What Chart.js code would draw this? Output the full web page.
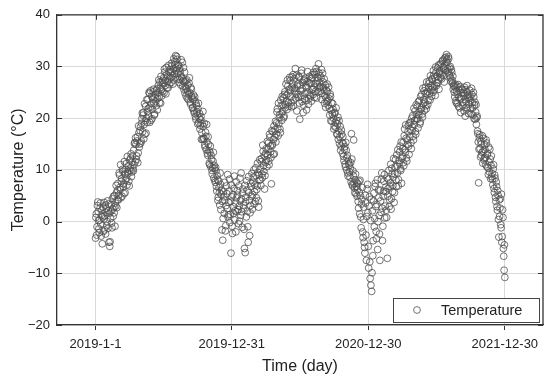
<!DOCTYPE html>
<html><head><meta charset="utf-8">
<script src="https://cdn.jsdelivr.net/npm/chart.js@4"></script>
<style>html,body{margin:0;padding:0;background:#fff}canvas{display:block}</style>
</head><body>
<canvas id="c" width="550" height="380"></canvas>
<script>
// ---- data ----
const seriesLabel = 'Temperature';
// readings on even day indexes (day 0 = 2019-1-1): days 0, 2, 4, ...
const tempEvenDays = [
  -3.2, 1.5, -1.0, 3.8, 0.2, -2.1, 2.6, -0.5, 1.2, -4.3,
  2.8, 0.5, -1.6, 3.2, 1.8, -0.8, 4.0, 2.1, -4.0, -4.8,
  0.6, 3.3, -1.2, 2.4, 4.9, 1.7, -0.9, 3.0, 5.6, 4.2,
  7.4, 5.1, 9.0, 6.2, 4.6, 8.3, 10.1, 6.8, 5.4, 9.2,
  8.0, 11.2, 7.1, 9.6, 10.8, 6.9, 9.9, 12.3, 8.7, 11.5,
  10.2, 13.8, 15.1, 11.6, 14.9, 12.7, 16.4, 13.3, 17.2, 15.0,
  18.3, 15.6, 19.9, 17.4, 21.1, 18.8, 16.9, 22.3, 20.0, 19.2,
  23.6, 20.4, 24.8, 22.1, 19.6, 24.2, 21.7, 25.1, 22.9, 20.8,
  24.6, 22.4, 25.7, 23.8, 26.4, 24.1, 27.0, 22.9, 25.5, 26.9,
  25.2, 27.8, 29.5, 26.3, 24.7, 28.4, 27.1, 25.9, 29.0, 27.6,
  28.8, 26.9, 30.1, 28.2, 29.6, 27.4, 31.0, 32.1, 29.3, 31.4,
  28.7, 30.3, 27.5, 29.1, 26.4, 28.0, 30.8, 27.2, 25.6, 28.9,
  26.1, 24.3, 27.4, 25.2, 23.6, 26.8, 24.9, 22.7, 25.6, 23.9,
  22.1, 24.5, 21.0, 23.3, 19.8, 22.4, 20.6, 21.8, 19.1, 20.9,
  18.6, 20.3, 17.2, 15.9, 18.4, 16.1, 14.8, 17.3, 13.9, 15.4,
  12.8, 14.9, 11.3, 13.4, 10.6, 12.0, 9.2, 11.7, 8.4, 10.3,
  7.6, 9.8, 5.9, 8.1, 4.7, 6.6, 3.2, 7.2, 5.3, -1.6,
  -3.6, 5.8, 1.6, 4.1, -0.8, 6.9, 2.5, 0.9, 3.7, 8.2,
  1.4, -6.1, 4.8, -2.3, 2.9, 6.4, 0.3, 3.6, 7.7, 1.9,
  5.1, -0.4, 3.0, 8.4, 1.2, 4.4, -1.1, 6.3, 2.6, -5.2,
  -6.0, 4.7, 7.9, 2.0, -4.0, 5.6, -2.7, 3.1, 6.8, 9.3,
  5.2, 8.6, 3.4, 7.1, 10.4, 4.6, 6.9, 9.5, 2.8, 8.0,
  10.1, 7.0, 12.2, 8.5, 13.6, 9.7, 6.3, 11.4, 14.1, 10.6,
  12.9, 15.2, 11.0, 16.3, 13.5, 7.3, 14.7, 17.4, 15.9, 13.1,
  17.8, 15.4, 19.1, 21.8, 16.6, 18.9, 20.7, 17.2, 22.4, 19.6,
  21.3, 23.9, 20.4, 25.1, 22.6, 24.4, 21.7, 26.2, 23.0, 25.6,
  27.3, 24.1, 22.2, 26.0, 28.4, 23.5, 25.8, 29.6, 24.7, 21.4,
  26.6, 24.0, 27.9, 19.8, 25.3, 28.7, 23.2, 26.9, 22.5, 27.4,
  24.8, 26.3, 21.6, 27.1, 25.0, 23.7, 28.1, 24.2, 26.7, 25.5,
  27.8, 24.6, 26.0, 28.5, 25.2, 29.0, 26.6, 27.3, 30.5, 25.9,
  28.2, 26.1, 29.4, 24.8, 27.0, 25.5, 22.9, 26.4, 24.0, 23.2,
  25.1, 22.5, 23.8, 20.6, 24.2, 21.5, 19.4, 22.8, 20.0, 18.5,
  21.1, 18.2, 19.6, 16.8, 20.2, 17.5, 15.1, 18.4, 14.6, 16.9,
  13.2, 15.1, 11.8, 14.5, 10.6, 13.8, 12.3, 9.4, 11.7, 10.9,
  8.6, 11.4, 17.0, 7.2, 9.8, 15.8, 6.5, 8.1, 5.4, 7.6,
  6.2, 3.9, 7.8, 1.5, 5.0, -1.2, 4.3, -2.0, 0.4, -4.0,
  -6.1, 3.6, -7.5, 6.3, 1.7, -9.0, 4.8, -11.0, -12.3, -13.5,
  2.1, -3.7, 5.5, 0.6, 7.4, -1.9, 3.3, -5.4, 6.1, 1.2,
  -7.5, 4.0, 8.2, 2.6, -0.9, 5.9, 9.1, 3.0, 6.7, 0.8,
  -7.1, 6.4, 9.9, 4.2, 7.5, 2.4, 10.3, 5.8, 8.6, 3.7,
  9.2, 12.0, 6.8, 10.7, 13.9, 8.1, 11.3, 14.6, 9.9, 7.4,
  12.6, 15.3, 10.8, 17.9, 13.4, 16.1, 11.7, 14.9, 18.6, 13.0,
  16.4, 19.2, 14.1, 17.6, 20.5, 15.8, 18.8, 21.4, 16.9, 19.9,
  22.3, 18.1, 20.6, 23.4, 19.3, 21.7, 24.6, 20.2, 22.8, 25.3,
  23.1, 26.0, 21.8, 24.7, 22.6, 25.9, 27.2, 23.5, 26.3, 24.2,
  27.5, 25.0, 28.3, 26.1, 24.4, 28.9, 26.8, 29.7, 27.4, 25.6,
  29.1, 27.8, 30.6, 28.4, 31.2, 29.5, 27.0, 30.1, 31.8, 32.3,
  30.8, 29.0, 31.5, 28.2, 30.0, 27.1, 28.9, 26.8, 25.6, 26.4,
  24.1, 25.9, 23.0, 26.2, 24.6, 22.3, 25.4, 23.7, 21.1, 24.9,
  25.6, 22.4, 24.3, 26.0, 20.4, 23.2, 25.1, 21.8, 24.0, 22.7,
  25.4, 23.5, 20.8, 24.6, 22.0, 25.0, 19.9, 23.1, 21.2, 18.8,
  20.4, 17.0, 7.5, 16.2, 14.1, 15.5, 12.8, 16.6, 13.6, 11.9,
  14.9, 12.4, 15.8, 10.6, 13.2, 9.1, 11.5, 14.0, 8.3, 12.7,
  9.3, 7.1, 11.0, 5.6, 8.4, 3.9, 6.8, 2.2, 5.1, -3.0,
  1.0, 4.4, -1.2, -4.0, 2.3, -5.2, -9.4, -10.8
];
// readings on odd day indexes: days 1, 3, 5, ...
const tempOddDays = [
  0.8, -2.6, 3.1, 1.9, -1.4, 0.3, 3.6, -2.8, 2.2, 0.9,
  -1.9, 3.7, 1.1, -2.4, 2.5, 0.0, -1.3, 3.4, 1.6, -3.9,
  2.0, -0.3, 4.4, 1.0, 2.8, 5.0, 3.6, 7.0, 2.7, 6.1,
  4.2, 9.4, 6.6, 11.0, 7.8, 4.9, 9.7, 7.3, 11.6, 5.6,
  10.1, 8.4, 12.6, 9.3, 7.8, 11.9, 10.4, 13.1, 9.6, 12.7,
  9.8, 11.0, 15.3, 16.2, 12.0, 15.6, 11.4, 18.5, 14.4, 17.6,
  15.2, 19.0, 21.0, 20.6, 16.0, 22.8, 19.5, 17.1, 23.6, 21.3,
  21.9, 25.0, 19.2, 25.3, 22.8, 19.9, 23.7, 25.6, 20.6, 24.0,
  23.2, 25.4, 21.6, 24.9, 27.4, 23.0, 25.8, 28.1, 24.3, 27.3,
  26.7, 24.9, 28.9, 27.3, 29.8, 25.8, 28.1, 30.2, 26.5, 29.4,
  27.9, 30.6, 29.0, 26.6, 31.5, 28.6, 30.4, 29.7, 31.9, 27.8,
  30.1, 26.9, 29.6, 28.4, 31.3, 27.7, 26.2, 29.8, 27.0, 24.9,
  27.2, 25.7, 23.9, 26.4, 24.6, 27.8, 23.1, 25.9, 24.2, 21.9,
  23.6, 21.4, 24.1, 20.3, 22.8, 21.2, 18.9, 22.9, 20.0, 17.9,
  19.7, 15.9, 18.9, 21.3, 16.0, 19.0, 14.4, 16.5, 18.8, 13.2,
  16.4, 13.7, 11.0, 14.6, 12.8, 9.9, 10.4, 13.4, 10.9, 8.0,
  10.5, 6.8, 8.9, 4.1, 7.9, 5.6, 9.4, 2.3, 6.1, 3.9,
  0.6, 4.8, 7.6, -1.8, 3.1, 5.4, 9.1, 1.3, 5.9, -0.2,
  3.9, 7.1, -0.9, 5.2, 1.6, 8.8, 2.1, -2.0, 4.6, 6.0,
  2.3, 6.9, 0.1, 4.0, 9.4, 1.9, 5.5, 3.2, -1.5, 7.0,
  3.8, 0.9, 6.1, -1.0, 8.7, 4.1, 1.7, 7.4, 4.9, 2.4,
  7.6, 10.0, 5.8, 3.9, 8.9, 6.2, 11.3, 4.0, 9.0, 12.0,
  8.1, 11.6, 9.2, 14.8, 10.8, 12.7, 8.9, 13.2, 11.9, 15.5,
  14.0, 11.7, 16.9, 14.6, 12.4, 17.6, 15.0, 13.0, 18.5, 16.3,
  19.4, 16.9, 21.2, 18.0, 22.9, 20.1, 17.9, 23.5, 20.9, 24.2,
  22.6, 20.1, 24.6, 22.0, 26.6, 23.3, 27.4, 24.8, 22.3, 27.9,
  25.4, 23.0, 28.0, 26.7, 22.4, 27.6, 25.3, 23.9, 28.3, 26.2,
  24.6, 28.1, 22.9, 26.4, 24.3, 29.3, 25.7, 21.1, 27.2, 23.8,
  27.7, 23.4, 25.9, 29.0, 22.7, 26.8, 24.5, 27.6, 23.3, 28.4,
  25.6, 28.9, 24.0, 26.7, 29.6, 23.9, 27.9, 25.1, 28.8, 26.9,
  25.2, 27.8, 23.6, 28.7, 25.9, 27.6, 24.3, 22.1, 25.4, 26.6,
  23.4, 26.0, 21.9, 24.7, 19.5, 23.0, 20.8, 21.7, 17.9, 20.9,
  19.2, 22.0, 17.0, 18.9, 15.9, 19.5, 16.4, 13.8, 17.7, 15.3,
  16.4, 12.6, 14.0, 11.1, 15.3, 10.0, 12.8, 8.8, 11.2, 9.6,
  10.3, 7.7, 12.1, 6.9, 8.9, 7.4, 5.6, 9.2, 6.8, 4.9,
  7.3, 2.6, 5.7, 8.0, 0.9, 3.4, 6.6, -3.1, 2.8, -5.0,
  5.1, -2.6, 1.0, 7.2, -4.8, 3.0, -7.8, 0.2, 4.3, -9.9,
  -6.6, 4.0, -1.0, 6.8, 2.9, -3.3, 8.1, 0.0, 4.6, -2.4,
  6.1, 1.8, 9.4, -3.7, 4.9, 7.8, 0.7, 5.8, 2.2, 8.4,
  4.9, 8.2, 2.9, 6.8, 11.1, 4.4, 9.3, 7.0, 12.2, 5.6,
  10.6, 8.0, 12.9, 9.4, 6.9, 11.8, 13.5, 10.2, 15.4, 12.2,
  14.1, 11.4, 16.6, 13.9, 18.7, 12.3, 15.8, 17.4, 14.6, 19.1,
  17.8, 15.2, 20.0, 18.3, 16.5, 21.9, 19.6, 17.4, 22.6, 20.7,
  19.8, 23.2, 21.3, 18.9, 24.2, 22.0, 20.8, 25.8, 23.6, 21.5,
  24.8, 22.4, 27.0, 25.1, 23.4, 26.7, 24.8, 28.2, 25.5, 27.6,
  26.0, 29.2, 25.4, 27.9, 29.9, 26.3, 28.1, 26.9, 30.3, 28.8,
  30.4, 28.7, 27.6, 31.0, 29.9, 28.3, 31.6, 29.2, 30.9, 31.4,
  29.6, 31.9, 28.6, 29.7, 27.8, 29.4, 27.3, 28.1, 26.2, 25.0,
  26.6, 23.4, 25.2, 22.8, 26.5, 24.0, 22.0, 26.1, 23.9, 25.6,
  23.0, 24.9, 21.4, 25.5, 23.6, 22.1, 26.3, 24.5, 20.9, 23.8,
  24.3, 21.9, 25.8, 23.0, 20.6, 24.1, 22.5, 19.8, 22.6, 20.1,
  17.5, 15.4, 14.0, 16.8, 12.5, 15.0, 13.4, 11.3, 16.1, 12.2,
  13.9, 11.0, 15.2, 12.9, 10.4, 14.4, 9.6, 12.1, 10.9, 8.7,
  8.2, 10.2, 6.4, 9.0, 4.7, 7.7, 2.9, 6.0, 0.4, 4.2,
  2.6, -0.6, 5.3, -2.9, 0.8, -6.7, -4.5
];
const tickDays = [0, 364, 729, 1094];
const tickLabels = ['2019-1-1', '2019-12-31', '2020-12-30', '2021-12-30'];
const yMin = -20, yMax = 40, yStep = 10;
const xMin = -103, xMax = 1196;
const xTitle = 'Time (day)';
const yTitle = 'Temperature (\u00B0C)';

// ---- chart ----
const points = [];
tempEvenDays.forEach((t, i) => {
  points.push({ x: 2 * i, y: t });
  if (i < tempOddDays.length) points.push({ x: 2 * i + 1, y: tempOddDays[i] });
});
const FONT = 'Arial, "Liberation Sans", Helvetica, sans-serif';
const DARK = '#333333';
const GRID = '#d9d9d9';

const framePlugin = {
  id: 'frame',
  afterDraw(chart) {
    const { ctx, chartArea: a, scales } = chart;
    ctx.save();
    ctx.strokeStyle = DARK;
    ctx.lineWidth = 1.3;
    ctx.beginPath();
    ctx.moveTo(a.left, a.top); ctx.lineTo(a.right, a.top); ctx.lineTo(a.right, a.bottom);
    ctx.stroke();
    ctx.lineWidth = 1;
    ctx.beginPath();
    scales.x.ticks.forEach(t => {
      const px = Math.round(scales.x.getPixelForValue(t.value)) + 0.5;
      ctx.moveTo(px, a.top); ctx.lineTo(px, a.top + 5);
    });
    scales.y.ticks.forEach(t => {
      const py = Math.round(scales.y.getPixelForValue(t.value)) + 0.5;
      ctx.moveTo(a.left, py); ctx.lineTo(a.left + 5, py);
      ctx.moveTo(a.right, py); ctx.lineTo(a.right - 5, py);
    });
    ctx.stroke();
    ctx.restore();
  }
};

const legendPlugin = {
  id: 'boxLegend',
  afterDraw(chart) {
    const { ctx, chartArea: a } = chart;
    const ds = chart.data.datasets[0];
    const w = 146, h = 24;
    const x = a.right - 4 - w, y = a.bottom - 3 - h;
    ctx.save();
    ctx.fillStyle = '#ffffff';
    ctx.fillRect(x, y, w, h);
    ctx.strokeStyle = '#444';
    ctx.lineWidth = 1;
    ctx.strokeRect(Math.round(x) + 0.5, Math.round(y) + 0.5, w, h);
    ctx.beginPath();
    ctx.arc(x + 24, y + h / 2, ds.pointRadius, 0, Math.PI * 2);
    ctx.strokeStyle = ds.borderColor;
    ctx.lineWidth = ds.borderWidth;
    ctx.stroke();
    ctx.fillStyle = '#222';
    ctx.font = '14.5px ' + FONT;
    ctx.textBaseline = 'middle';
    ctx.textAlign = 'left';
    ctx.fillText(ds.label, x + 48, y + h / 2 + 0.5);
    ctx.restore();
  }
};

new Chart(document.getElementById('c'), {
  type: 'scatter',
  data: {
    datasets: [{
      label: seriesLabel,
      data: points,
      pointStyle: 'circle',
      pointRadius: 3.4,
      pointHoverRadius: 3.4,
      borderWidth: 0.8,
      borderColor: '#505050',
      backgroundColor: 'rgba(255,255,255,0)'
    }]
  },
  options: {
    responsive: false,
    animation: false,
    devicePixelRatio: 1,
    events: [],
    layout: { padding: { top: 13, right: 7, left: 0, bottom: 0 } },
    plugins: { legend: { display: false }, tooltip: { enabled: false } },
    scales: {
      x: {
        type: 'linear',
        min: xMin, max: xMax,
        afterFit: s => { s.height = 55; },
        afterBuildTicks: s => { s.ticks = tickDays.map(v => ({ value: v })); },
        grid: { color: GRID, lineWidth: 1, drawTicks: true, tickLength: 5, tickColor: DARK, tickWidth: 1 },
        border: { color: DARK, width: 1.3 },
        ticks: {
          autoSkip: false, maxRotation: 0, padding: 7, color: '#222',
          font: { family: FONT, size: 13 },
          callback: v => { const i = tickDays.indexOf(v); return i >= 0 ? tickLabels[i] : ''; }
        },
        title: { display: true, text: xTitle, color: '#222', font: { family: FONT, size: 16 }, padding: { top: 0, bottom: 4 } }
      },
      y: {
        min: yMin, max: yMax,
        afterFit: s => { s.width = 57; },
        grid: { color: GRID, lineWidth: 1, drawTicks: false },
        border: { color: DARK, width: 1.3 },
        ticks: {
          stepSize: yStep, padding: 7, color: '#222',
          font: { family: FONT, size: 13 },
          callback: v => String(v).replace('-', '\u2212')
        },
        title: { display: true, text: yTitle, color: '#222', font: { family: FONT, size: 16 }, padding: { top: 9, bottom: 0 } }
      }
    }
  },
  plugins: [framePlugin, legendPlugin]
});
</script>
</body></html>
